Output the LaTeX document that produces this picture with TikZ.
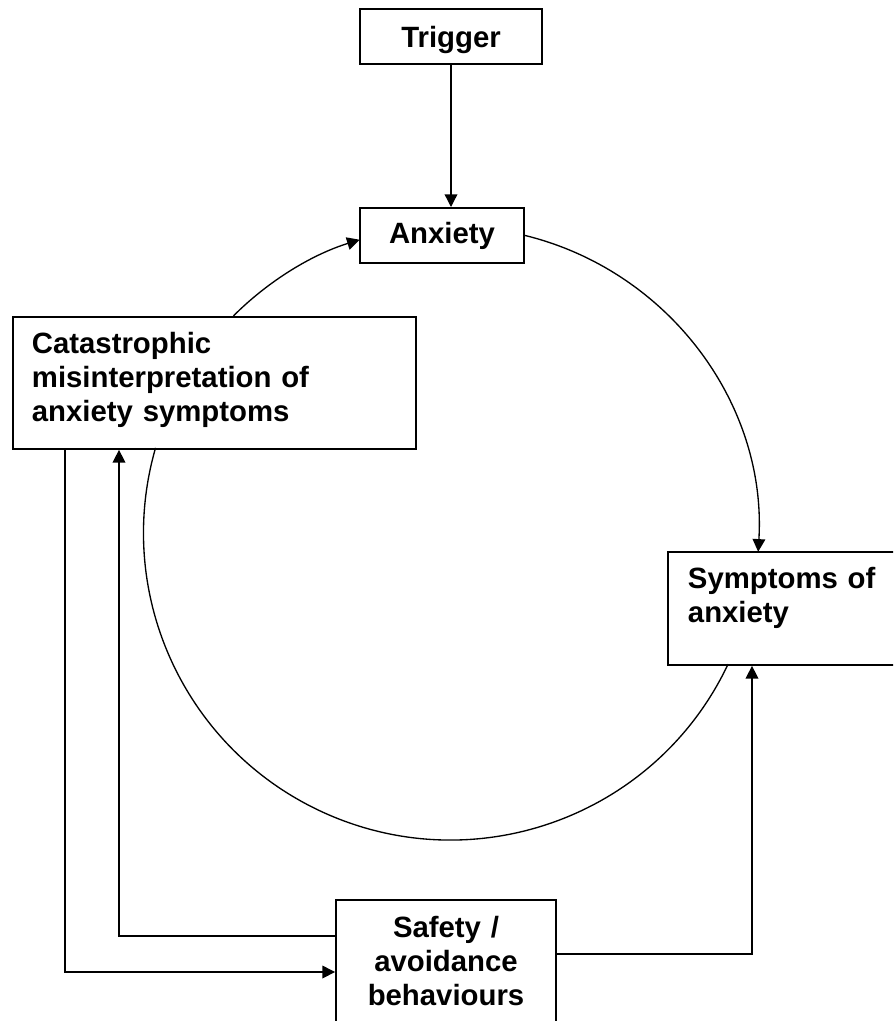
\documentclass[tikz,border=0pt]{standalone}
\usepackage{fontspec}
\setmainfont{Liberation Sans}
\usetikzlibrary{arrows.meta}

\begin{document}
\begin{tikzpicture}[
    x=0.75pt, y=0.75pt,
    box/.style={rectangle, draw, line width=1.4pt, inner xsep=15pt, inner ysep=6pt, font=\bfseries\fontsize{22}{25.5}\selectfont},
    arrow/.style={-{Triangle[length=9.5pt,width=9.5pt]}, line width=1pt},
    loop/.style={line width=1pt}
]
    \useasboundingbox (0,0) rectangle (893,-1021);
    \clip (0,0) rectangle (893,-1021);

    % Kaestchen
    \node[box, anchor=north, minimum width=136.5pt, text height=23.25pt, text depth=6pt] (trigger) at (451,-8) {Trigger};
    \node[box, anchor=north, minimum width=123pt, text height=21pt, text depth=8.25pt] (anxiety) at (442,-207) {Anxiety};
    \node[box, anchor=north west, text width=273.75pt, inner xsep=14.25pt, align=left, text height=21.75pt, text depth=65.25pt] (catastrophic) at (12,-316) {Catastrophic\\misinterpretation of\\anxiety symptoms};
    \node[box, anchor=north west, text width=150pt, align=left, text height=21.75pt, text depth=51pt] (symptoms) at (667,-551) {Symptoms of\\anxiety};
    \node[box, anchor=north, text width=135pt, align=center, text height=22.5pt, text depth=80pt] (safety) at (446,-899) {Safety /\\avoidance\\behaviours};

    % Kreis
    \coordinate (hub) at (450.5,-533);

    % Pfeile
    \draw[arrow] (trigger.south) -- (trigger.south |- anxiety.north);
    \draw[arrow] (anxiety.east) arc[start angle=76.2, end angle=-3.4, radius=307];
    \draw[loop] (hub) ++(-25.3:307) arc[start angle=-25.3, end angle=-196.1, radius=307];
    \draw[arrow] (hub) ++(135:307) arc[start angle=135, end angle=107.2, radius=307];
    \draw[arrow] ([xshift=39.75pt]catastrophic.south west) |- ([yshift=-54.75pt]safety.north west);
    \draw[arrow] ([yshift=-27.75pt]safety.north west) -| ([xshift=80.25pt]catastrophic.south west);
    \draw[arrow] ([yshift=-41.25pt]safety.north east) -| ([xshift=63.75pt]symptoms.south west);
\end{tikzpicture}
\end{document}
